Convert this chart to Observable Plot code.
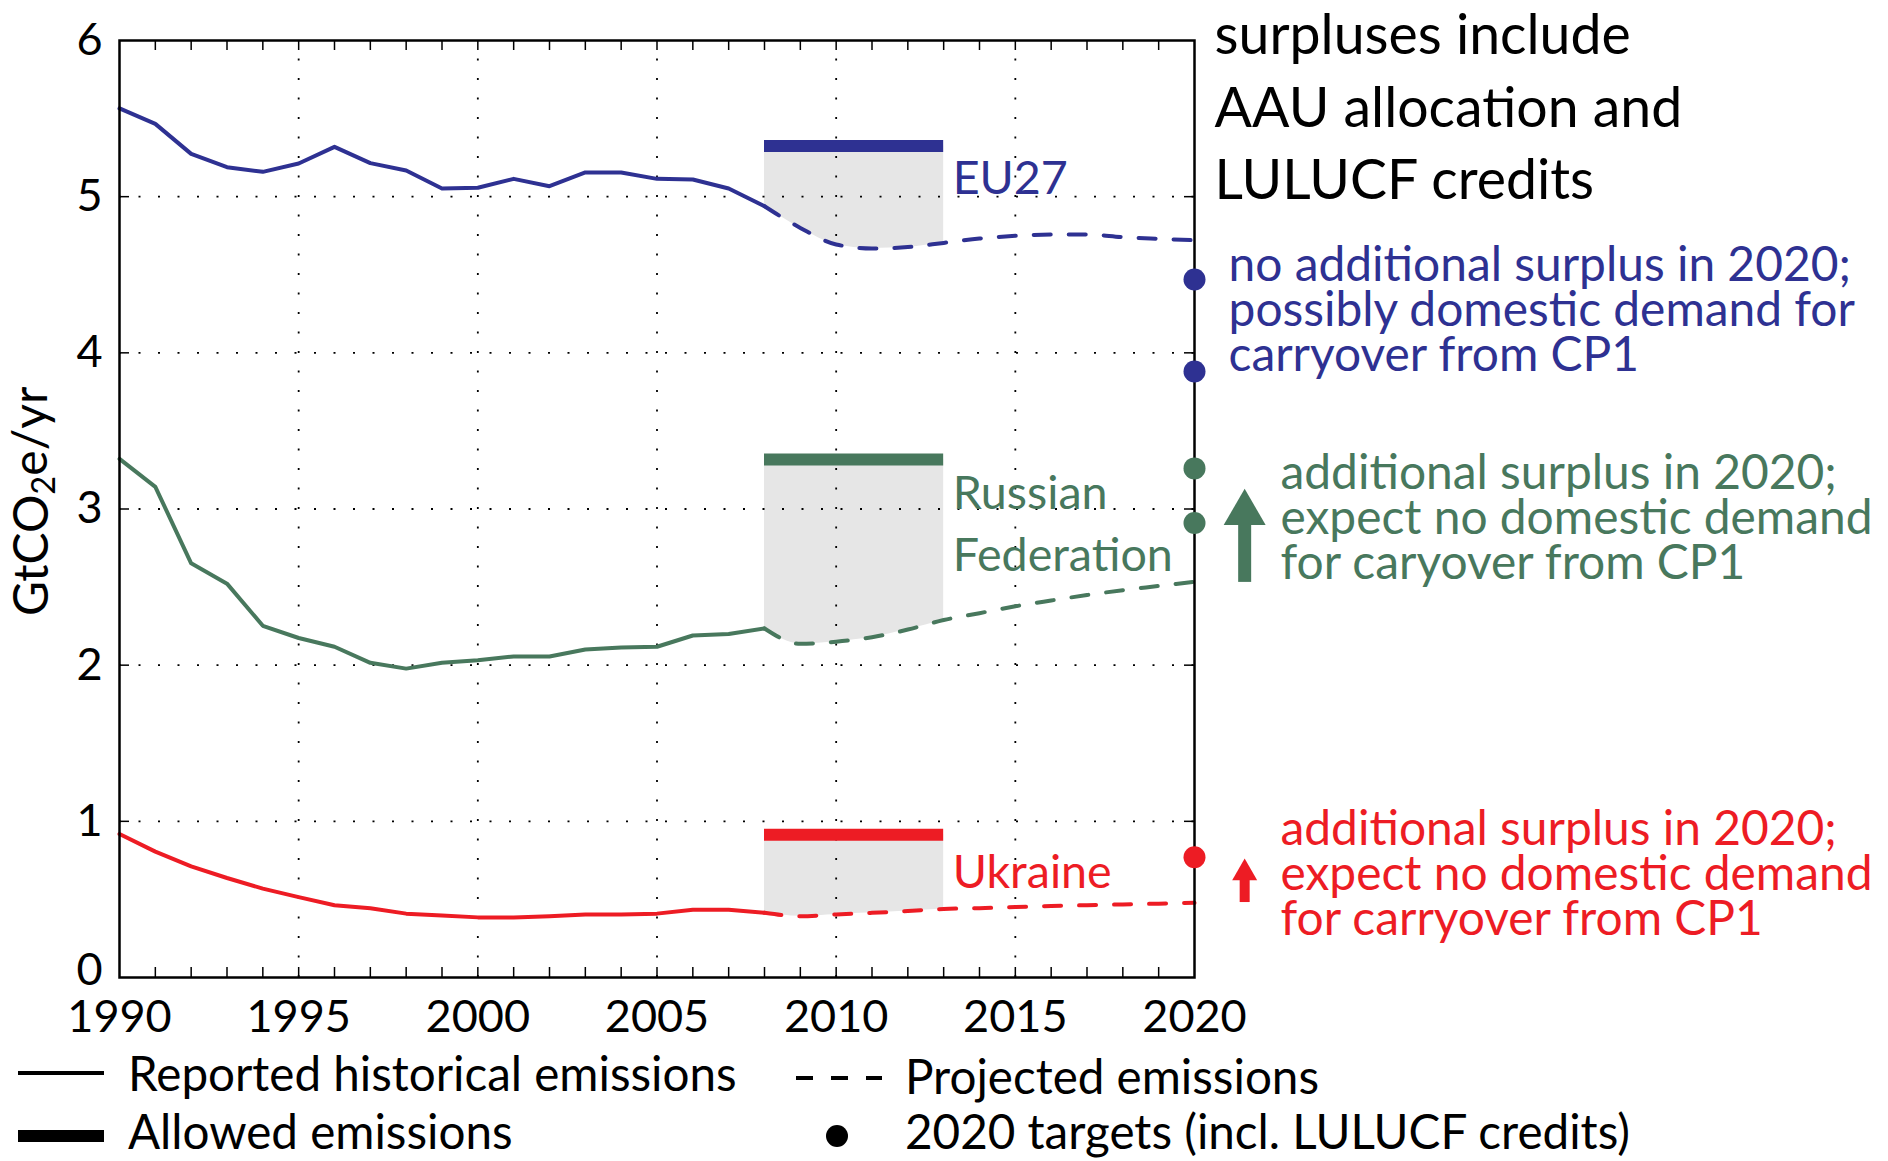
<!DOCTYPE html>
<html>
<head>
<meta charset="utf-8">
<script src="https://cdn.jsdelivr.net/npm/d3@7"></script>
<script src="https://cdn.jsdelivr.net/npm/@observablehq/plot@0.6"></script>
<style>
html, body { margin: 0; padding: 0; background: #fff; }
#chart { width: 1888px; height: 1161px; position: relative; overflow: hidden; font-family: Lato, sans-serif; }
</style>
</head>
<body>
<div id="chart"></div>
<script>
// ---------------- data ----------------
const countries = ["EU27", "Russian Federation", "Ukraine"];
const countryColors = ["#2E3192", "#48785D", "#ED1C24"];

const histYears = [1990, 1991, 1992, 1993, 1994, 1995, 1996, 1997, 1998, 1999, 2000, 2001, 2002, 2003, 2004, 2005, 2006, 2007, 2008];
const euHist = [5.565, 5.466, 5.274, 5.189, 5.159, 5.212, 5.319, 5.215, 5.168, 5.052, 5.057, 5.114, 5.067, 5.155, 5.155, 5.114, 5.110, 5.052, 4.939];
const ruHist = [3.321, 3.142, 2.652, 2.522, 2.252, 2.174, 2.118, 2.015, 1.978, 2.015, 2.032, 2.056, 2.056, 2.100, 2.113, 2.118, 2.190, 2.199, 2.235];
const uaHist = [0.919, 0.806, 0.711, 0.637, 0.569, 0.515, 0.463, 0.444, 0.409, 0.397, 0.385, 0.385, 0.392, 0.404, 0.404, 0.409, 0.434, 0.434, 0.414];

const projYears = [2008, 2009, 2010, 2011, 2012, 2013, 2014, 2015, 2016, 2017, 2018, 2019, 2020];
const euProj = [4.939, 4.800, 4.694, 4.668, 4.677, 4.704, 4.732, 4.749, 4.758, 4.758, 4.741, 4.730, 4.721];
const ruProj = [2.235, 2.137, 2.150, 2.179, 2.228, 2.289, 2.333, 2.377, 2.414, 2.449, 2.480, 2.507, 2.534];
const uaProj = [0.414, 0.392, 0.404, 0.414, 0.426, 0.439, 0.444, 0.451, 0.458, 0.463, 0.468, 0.473, 0.478];

const allowedStart = 2008;
const allowedEnd = 2013;
const allowedValues = [5.325, 3.317, 0.914];

const targetYear = 2020;
const targetCountries = ["EU27", "EU27", "Russian Federation", "Russian Federation", "Ukraine"];
const targetValues = [4.47, 3.88, 3.26, 2.91, 0.77];

const arrowCountries = ["Russian Federation", "Ukraine"];
const arrowYear = 2021.4;
const arrowFrom = [2.53, 0.48];
const arrowTo = [3.13, 0.762];

const xTickLabels = [1990, 1995, 2000, 2005, 2010, 2015, 2020];
const yTickLabels = [0, 1, 2, 3, 4, 5, 6];
const xGrid = [1995, 2000, 2005, 2010, 2015];
const yGrid = [1, 2, 3, 4, 5];
const xMinorTicks = [1991, 1992, 1993, 1994, 1995, 1996, 1997, 1998, 1999, 2000, 2001, 2002, 2003, 2004, 2005, 2006, 2007, 2008, 2009, 2010, 2011, 2012, 2013, 2014, 2015, 2016, 2017, 2018, 2019];
const yMajorTicks = [1, 2, 3, 4, 5];

const yLabel = "GtCO2e/yr";

const labelTexts = ["EU27", "Russian", "Federation", "Ukraine"];
const labelCountries = ["EU27", "Russian Federation", "Russian Federation", "Ukraine"];
const labelX = 2013.25;
const labelY = [5.02, 3.0, 2.6, 0.57];

const noteBlack = ["surpluses include", "AAU allocation and", "LULUCF credits"];
const noteEU = ["no additional surplus in 2020;", "possibly domestic demand for", "carryover from CP1"];
const noteRU = ["additional surplus in 2020;", "expect no domestic demand", "for caryover from CP1"];
const noteUA = ["additional surplus in 2020;", "expect no domestic demand", "for carryover from CP1"];
const noteX = [2020.56, 2020.95, 2022.40, 2022.40];
const noteLastY = [4.985, 3.886, 2.554, 0.269];

const legendLabels = ["Reported historical emissions", "Projected emissions", "Allowed emissions", "2020 targets (incl. LULUCF credits)"];

// ---------------- layout / styles ----------------
const FONT = "Lato";
const W = 1888, H = 1040, mL = 119, mR = 694, mT = 40, mB = 63;
const pxPerUnit = (H - mT - mB) / 6;
const pxPerYear = (W - mL - mR) / 30;
const tickLen = 10;
const tY = tickLen / pxPerUnit, tX = tickLen / pxPerYear;
const colorOf = c => countryColors[countries.indexOf(c)];

const ctx = document.createElement("canvas").getContext("2d");
function fitSize(pairs) {
  ctx.font = `100px ${FONT}`;
  return d3.mean(pairs, ([t, w]) => 100 * w / ctx.measureText(t).width);
}
const tickFS = fitSize([["1990", 104], ["2020", 105]]);
const yLabelFS = 48;
const yLabelBaseline = 47;   // px from the left edge of the picture
const labelFS = fitSize([["EU27", 108], ["Russian", 157], ["Federation", 226], ["Ukraine", 163]]);
const blackFS = fitSize([["surpluses include", 426], ["AAU allocation and", 470], ["LULUCF credits", 370]]);
const noteFS = fitSize([["no additional surplus in 2020;", 624], ["possibly domestic demand for", 636], ["carryover from CP1", 407],
  ["additional surplus in 2020;", 559], ["expect no domestic demand", 596], ["for caryover from CP1", 464], ["for carryover from CP1", 480]]);
const legendFS = fitSize([["Reported historical emissions", 620], ["Projected emissions", 419], ["Allowed emissions", 389], ["2020 targets (incl. LULUCF credits)", 696]]);

// ---------------- derived tables ----------------
const histSeries = [euHist, ruHist, uaHist];
const projSeries = [euProj, ruProj, uaProj];
const hist = countries.flatMap((c, i) => histYears.map((yr, j) => ({country: c, year: yr, value: histSeries[i][j]})));
const proj = countries.flatMap((c, i) => projYears.map((yr, j) => ({country: c, year: yr, value: projSeries[i][j]})));
const allowed = countries.map((c, i) => ({country: c, value: allowedValues[i], x1: allowedStart, x2: allowedEnd}));
const gap = proj.filter(d => d.year >= allowedStart && d.year <= allowedEnd)
  .map(d => ({...d, top: allowedValues[countries.indexOf(d.country)]}));
const targets = targetValues.map((v, i) => ({country: targetCountries[i], year: targetYear, value: v}));
const arrows = arrowCountries.map((c, i) => ({country: c, x: arrowYear, from: arrowFrom[i], to: arrowTo[i]}));
const labels = labelTexts.map((t, i) => ({text: t, country: labelCountries[i], y: labelY[i]}));
const notes = [noteBlack, noteEU, noteRU, noteUA].map((lines, i) => ({
  text: lines.join("\n"), x: noteX[i], y: noteLastY[i],
  color: i === 0 ? "black" : countryColors[i - 1]
}));

// arrow heads (equilateral triangles)
const headSide = [42, 25];
const shaftW = [13, 10];
function triR(s) { return Math.sqrt((Math.sqrt(3) * s * s / 4) / Math.PI); }
function triTip(s) { return s / Math.sqrt(3); }        // centroid -> tip distance
function triH(s) { return s * Math.sqrt(3) / 2; }

const dotted = {stroke: "black", strokeWidth: 1.8, strokeDasharray: "2,17.5"};
const noteLineGap = [72.5, 45, 45, 45];
const noteFSs = [blackFS, noteFS, noteFS, noteFS];

const arrowMarks = arrows.flatMap((a, i) => [
  Plot.ruleX([a], {x: "x", y1: "to", y2: "from", stroke: "country", strokeWidth: shaftW[i], insetTop: triH(headSide[i]) - 2}),
  Plot.dot([a], {x: "x", y: "to", fill: "country", symbol: "triangle", r: triR(headSide[i]), dy: triTip(headSide[i])})
]);

const noteMarks = notes.map((n, i) => Plot.text([n], {
  x: "x", y: "y", text: "text", fill: n.color, textAnchor: "start", lineAnchor: "bottom",
  fontSize: noteFSs[i], lineHeight: noteLineGap[i] / noteFSs[i]
}));

const chart = Plot.plot({
  width: W, height: H,
  marginLeft: mL, marginRight: mR, marginTop: mT, marginBottom: mB,
  x: {domain: [1990, 2020], axis: null},
  y: {domain: [0, 6], axis: null},
  color: {domain: countries, range: countryColors},
  style: {fontFamily: FONT, background: "white", overflow: "visible"},
  marks: [
    Plot.areaY(gap, {x: "year", y1: "value", y2: "top", z: "country", fill: "#E6E6E6", curve: "monotone-x"}),
    Plot.ruleX(xGrid, {x: d => d, y1: 0, y2: 6, ...dotted}),
    Plot.ruleY(yGrid, {y: d => d, x1: 1990, x2: 2020, ...dotted}),
    Plot.ruleX(xMinorTicks, {x: d => d, y1: 0, y2: tY, stroke: "black", strokeWidth: 1.5}),
    Plot.ruleX(xMinorTicks, {x: d => d, y1: 6 - tY, y2: 6, stroke: "black", strokeWidth: 1.5}),
    Plot.ruleY(yMajorTicks, {y: d => d, x1: 1990, x2: 1990 + tX, stroke: "black", strokeWidth: 1.5}),
    Plot.ruleY(yMajorTicks, {y: d => d, x1: 2020 - tX, x2: 2020, stroke: "black", strokeWidth: 1.5}),
    Plot.line(hist, {x: "year", y: "value", z: "country", stroke: "country", strokeWidth: 4}),
    Plot.line(proj, {x: "year", y: "value", z: "country", stroke: "country", strokeWidth: 4, strokeDasharray: "17,18", curve: "monotone-x"}),
    Plot.ruleY(allowed, {y: "value", x1: "x1", x2: "x2", stroke: "country", strokeWidth: 12}),
    Plot.frame({stroke: "black", strokeWidth: 2.5}),
    Plot.dot(targets, {x: "year", y: "value", fill: "country", r: 11}),
    ...arrowMarks,
    Plot.text(labels, {x: labelX, y: "y", text: "text", fill: d => colorOf(d.country), textAnchor: "start", lineAnchor: "bottom", fontSize: labelFS}),
    ...noteMarks,
    Plot.text(xTickLabels, {x: d => d, y: 0, text: d => String(d), dy: 54, lineAnchor: "bottom", fontSize: tickFS, fill: "black"}),
    Plot.text(yTickLabels.filter(d => d > 0), {x: 1990, y: d => d, text: d => String(d), textAnchor: "end", dx: -17, fontSize: tickFS, fill: "black"}),
    Plot.text(yTickLabels.filter(d => d === 0), {x: 1990, y: d => d, text: d => String(d), textAnchor: "end", dx: -17, dy: -7, fontSize: tickFS, fill: "black"}),
    Plot.text([yLabel], {x: 1990, y: 3.05, text: d => d, dx: yLabelBaseline - 0.32 * yLabelFS - mL, rotate: -90, fontSize: yLabelFS, fill: "black"})
  ]
});

// subscript "2" in the y-axis label
d3.select(chart).selectAll("text").filter(function () { return this.textContent === yLabel; })
  .each(function () {
    const t = d3.select(this);
    t.text(null);
    t.append("tspan").text("GtCO");
    t.append("tspan").attr("font-size", "0.68em").attr("dy", "0.22em").text("2");
    t.append("tspan").attr("dy", "-0.15em").text("e/yr");
  });

const root = document.getElementById("chart");
root.appendChild(chart);

// ---------------- legend (below the plot) ----------------
const leg = d3.select(root).append("svg")
  .attr("width", W).attr("height", 1161 - H)
  .style("display", "block")
  .attr("font-family", FONT).attr("font-size", legendFS);
leg.append("line").attr("x1", 18).attr("x2", 104).attr("y1", 33).attr("y2", 33).attr("stroke", "black").attr("stroke-width", 4);
leg.append("text").attr("x", 128).attr("y", 51).text(legendLabels[0]);
leg.append("line").attr("x1", 796).attr("x2", 882).attr("y1", 38).attr("y2", 38).attr("stroke", "black").attr("stroke-width", 4).attr("stroke-dasharray", "17,18");
leg.append("text").attr("x", 905).attr("y", 54).text(legendLabels[1]);
leg.append("line").attr("x1", 18).attr("x2", 104).attr("y1", 96).attr("y2", 96).attr("stroke", "black").attr("stroke-width", 12);
leg.append("text").attr("x", 128).attr("y", 109).text(legendLabels[2]);
leg.append("circle").attr("cx", 837).attr("cy", 96).attr("r", 11).attr("fill", "black");
leg.append("text").attr("x", 905).attr("y", 109).text(legendLabels[3]);
</script>
</body>
</html>
